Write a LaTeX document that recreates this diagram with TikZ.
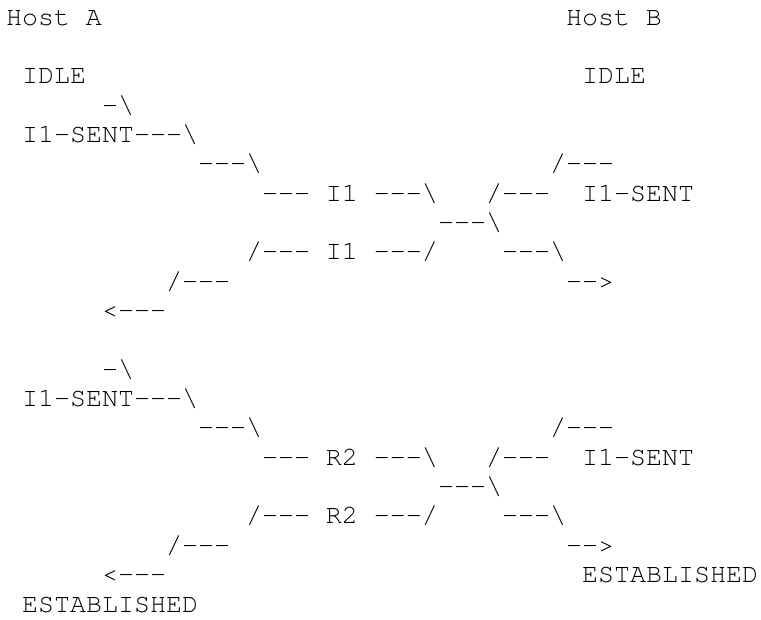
\documentclass[tikz,border=0pt]{standalone}
\usepackage{fontspec}
\setmonofont{texgyrecursor-regular.otf}
\newcommand{\bs}{\textbackslash}

\begin{document}
\begin{tikzpicture}[
  x=16pt, y=-29.35pt,% one column, one row of the listing
  txt/.style = {anchor=base west, inner sep=0pt, outer sep=0pt,
                font=\ttfamily\fontsize{26.67pt}{29.35pt}\selectfont},
                    ]
\useasboundingbox (-6pt,25pt) rectangle (755pt,-594pt);
% hosts
\node[txt] (hostA) at (0,0) {Host A};
\node[txt] (hostB) at (35,0) {Host B};
\node[txt] (idleA) at (1,2) {IDLE};
\node[txt] (idleB) at (36,2) {IDLE};
% first exchange: I1 crossing I1
\node[txt] (startA) at (6,3) {-\bs};
\node[txt] (sentA) at (1,4) {I1-SENT---\bs};
\node[txt] (goA) at (12,5) {---\bs};
\node[txt] (goB) at (34,5) {/---};
\node[txt] (iA) at (16,6) {--- I1 ---\bs};
\node[txt] (leaveB) at (30,6) {/---};
\node[txt] (sentB) at (36,6) {I1-SENT};
\node[txt] (cross) at (27,7) {---\bs};
\node[txt] (iB) at (15,8) {/--- I1 ---/};
\node[txt] (arriveB) at (31,8) {---\bs};
\node[txt] (backA) at (10,9) {/---};
\node[txt] (tipB) at (35,9) {-->};
\node[txt] (tipA) at (6,10) {<---};
% second exchange: R2 crossing R2
\node[txt] (startA2) at (6,12) {-\bs};
\node[txt] (sentA2) at (1,13) {I1-SENT---\bs};
\node[txt] (goA2) at (12,14) {---\bs};
\node[txt] (goB2) at (34,14) {/---};
\node[txt] (rA) at (16,15) {--- R2 ---\bs};
\node[txt] (leaveB2) at (30,15) {/---};
\node[txt] (sentB2) at (36,15) {I1-SENT};
\node[txt] (cross2) at (27,16) {---\bs};
\node[txt] (rB) at (15,17) {/--- R2 ---/};
\node[txt] (arriveB2) at (31,17) {---\bs};
\node[txt] (backA2) at (10,18) {/---};
\node[txt] (tipB2) at (35,18) {-->};
\node[txt] (tipA2) at (6,19) {<---};
\node[txt] (estB) at (36,19) {ESTABLISHED};
\node[txt] (estA) at (1,20) {ESTABLISHED};
\end{tikzpicture}
\end{document}
